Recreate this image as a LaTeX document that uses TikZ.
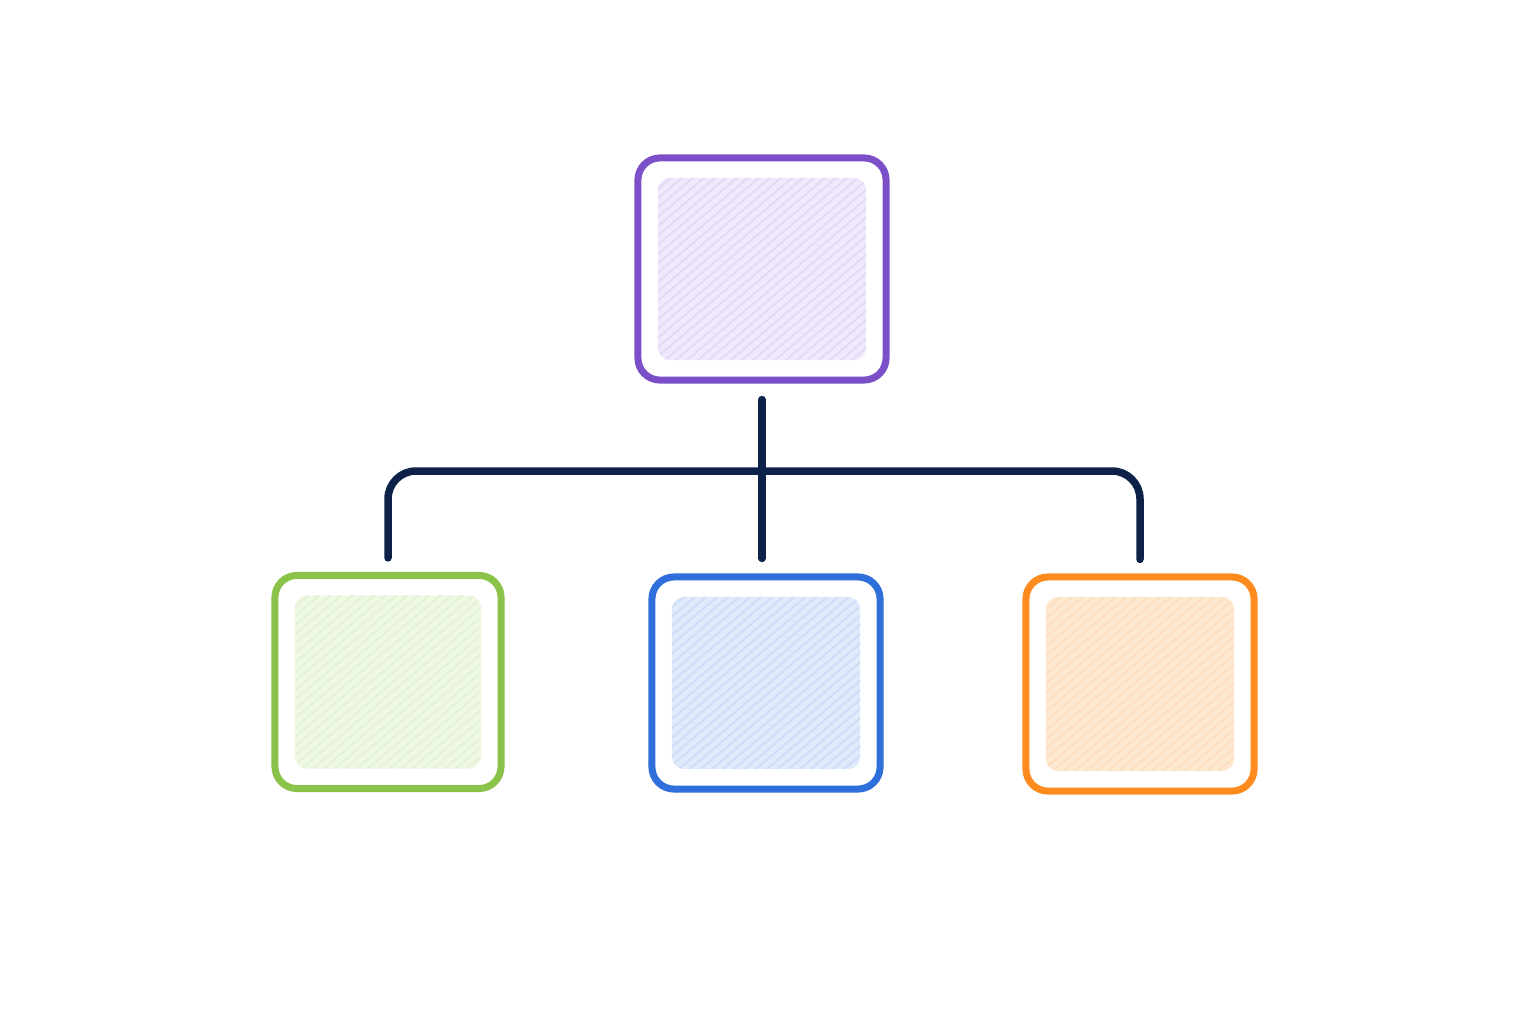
\documentclass[tikz,border=0pt]{standalone}
\usetikzlibrary{calc}
\definecolor{pur}{HTML}{7B4FC8}
\definecolor{purf}{HTML}{F1E8FB}
\definecolor{grn}{HTML}{8BC34A}
\definecolor{grnf}{HTML}{EEF8E3}
\definecolor{blu}{HTML}{2F6FDB}
\definecolor{bluf}{HTML}{DFEAFB}
\definecolor{org}{HTML}{FF8A1E}
\definecolor{orgf}{HTML}{FDE8D0}
\definecolor{navy}{HTML}{0E2148}
\tikzset{
  card/.style={draw=#1, line width=0.07cm, rounded corners=0.22cm, inner sep=0pt,
    path picture={
      \begin{scope}
        \clip[rounded corners=0.12cm] ($(path picture bounding box.south west)+(0.2cm,0.2cm)$) rectangle ($(path picture bounding box.north east)+(-0.2cm,-0.2cm)$);
        \fill[#1f] (path picture bounding box.south west) rectangle (path picture bounding box.north east);
        \foreach \k in {0,...,45}{
          \draw[#1f!70!#1, line width=0.5pt, opacity=0.35, line cap=round]
            ($(path picture bounding box.south west)+(\k*0.11cm-2.6cm,0.1cm)$) -- ++(2.6cm,2.2cm);
        }
      \end{scope}
    }},
  link/.style={draw=navy, line width=0.075cm, line cap=round, rounded corners=0.28cm}
}
\begin{document}
\begin{tikzpicture}[x=0.01cm,y=-0.01cm]
  \fill[white] (0,0) rectangle (1536,1024);
  \useasboundingbox (0,0) rectangle (1536,1024);
  \node[card=pur, minimum width=2.48cm, minimum height=2.22cm] (top) at (762,269) {};
  \node[card=grn, minimum width=2.26cm, minimum height=2.13cm] (green) at (388,682) {};
  \node[card=blu, minimum width=2.28cm, minimum height=2.12cm] (blue) at (766,683) {};
  \node[card=org, minimum width=2.28cm, minimum height=2.14cm] (orange) at (1140,684) {};
  \coordinate (hub) at (763,471);
  \draw[link, shorten <=0.16cm, shorten >=0.15cm] (top.south) -- (top.south |- blue.north);
  \draw[link, shorten <=0.14cm, shorten >=0.14cm] (green.north) |- (hub) -| (orange.north);
\end{tikzpicture}
\end{document}
